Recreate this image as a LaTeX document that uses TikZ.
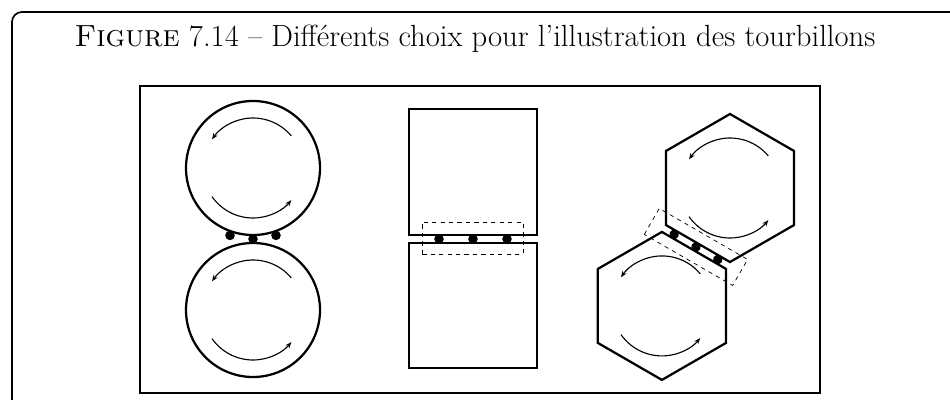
\documentclass[tikz,border=0pt]{standalone}
\usepackage{fontspec}
\usetikzlibrary{arrows.meta}

\begin{document}
\begin{tikzpicture}[
  forme/.style={line width=1.6pt},
  tourne/.style={line width=0.8pt,-{Stealth[length=4.5pt,width=3.5pt]}},
  zone/.style={dashed,line width=0.5pt}]
\useasboundingbox (0,0) rectangle (23.75,9.975);
% Cadre de la figure et titre
\draw[line width=1.2pt,rounded corners=0.25cm] (0.3,-0.2) -- (0.3,9.675) -- (24.2,9.675);
\node[anchor=base] (titre) at (11.875,8.825) {\fontsize{21.8}{24}\selectfont\textsc{Figure} 7.14 -- Différents choix pour l'illustration des tourbillons};
\draw[line width=2pt] (3.5,0.15) rectangle (20.5,7.825);
% Choix 1: cercles
\begin{scope}[shift={(6.325,4)}]
\foreach \y in {1.775,-1.775} {
    \draw[forme] (0,\y) circle (1.675);
    \draw[tourne] (0,\y) ++(40:1.25) arc (40:145:1.25);
    \draw[tourne] (0,\y) ++(215:1.25) arc (215:320:1.25);
}
\fill (0,0) circle (0.12);
\foreach \x in {-0.575,0.575} {
    \fill (\x,0.09) circle (0.12);
}
\end{scope}
% Choix 2: carres
\begin{scope}[shift={(11.825,4)}]
\draw[forme] (-1.6,0.1) rectangle (1.6,3.25);
\draw[forme] (-1.6,-0.1) rectangle (1.6,-3.225);
\foreach \x in {-0.85,0,0.85} {
    \fill (\x,0) circle (0.12);
}
\draw[zone] (-1.275,-0.375) rectangle (1.25,0.425);
\end{scope}
% Choix 3: hexagones
\begin{scope}[shift={(17.399,3.801)},rotate=-30]
\foreach \y in {1.702,-1.702} {
    \begin{scope}[shift={(0,\y)}]
    \draw[forme] (0:1.85) -- (60:1.85) -- (120:1.85) -- (180:1.85) -- (240:1.85) -- (300:1.85) -- cycle;
    \draw[tourne] (70:1.25) arc (70:175:1.25);
    \draw[tourne] (245:1.25) arc (245:350:1.25);
    \end{scope}
}
\foreach \x in {-0.63,0,0.63} {
    \fill (\x,0) circle (0.12);
}
\draw[zone] (-1.275,-0.375) rectangle (1.275,0.375);
\end{scope}
\end{tikzpicture}
\end{document}
